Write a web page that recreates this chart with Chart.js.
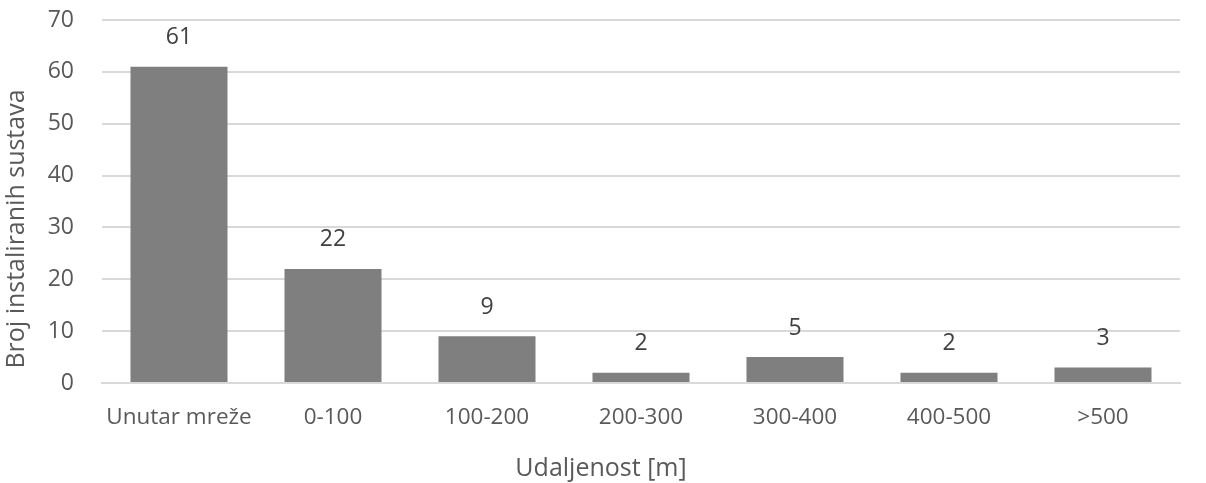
<!DOCTYPE html>
<html>
<head>
<meta charset="utf-8">
<script src="https://cdn.jsdelivr.net/npm/chart.js@4/dist/chart.umd.min.js"></script>
<style>
  html, body { margin: 0; padding: 0; background: #fff; }
  #wrap { width: 1206px; height: 483px; position: relative; }
</style>
</head>
<body>
<div id="wrap"><canvas id="chart"></canvas></div>
<script>
const categories = ['Unutar mreže', '0-100', '100-200', '200-300', '300-400', '400-500', '>500'];
const counts = [61, 22, 9, 2, 5, 2, 3];
const yTicks = [0, 10, 20, 30, 40, 50, 60, 70];
const xTitle = 'Udaljenost [m]';
const yTitle = 'Broj instaliranih sustava';

const FONT = "'Open Sans', 'Noto Sans', sans-serif";

// vrijednosti iznad stupaca + naslovi osi
const extras = {
  id: 'extras',
  afterDatasetsDraw(chart) {
    const ctx = chart.ctx;
    const meta = chart.getDatasetMeta(0);
    ctx.save();
    ctx.font = '23px ' + FONT;
    ctx.fillStyle = '#404040';
    ctx.textAlign = 'center';
    ctx.textBaseline = 'middle';
    meta.data.forEach((bar, i) => {
      ctx.fillText(String(counts[i]), bar.x, bar.y - 29);
    });

    ctx.font = '25px ' + FONT;
    ctx.fillStyle = '#595959';
    ctx.fillText(xTitle, 601, 469);
    ctx.translate(17, 229);
    ctx.rotate(-Math.PI / 2);
    ctx.fillText(yTitle, 0, 0);
    ctx.restore();
  }
};

new Chart(document.getElementById('chart'), {
  type: 'bar',
  data: {
    labels: categories,
    datasets: [{
      data: counts,
      backgroundColor: '#7f7f7f',
      borderWidth: 0,
      barPercentage: 0.63,
      categoryPercentage: 1.0
    }]
  },
  options: {
    responsive: true,
    maintainAspectRatio: false,
    animation: false,
    layout: { padding: { top: 0, right: 26, bottom: 0, left: 0 } },
    plugins: {
      legend: { display: false },
      tooltip: { enabled: false }
    },
    scales: {
      x: {
        grid: { display: false, drawTicks: false },
        border: { display: true, color: '#d9d9d9', width: 2 },
        ticks: { color: '#595959', font: { family: FONT, size: 22.5 }, padding: 21, maxRotation: 0 },
        afterFit(s) { s.height = 100; }
      },
      y: {
        min: 0,
        max: 70,
        afterBuildTicks(s) { s.ticks = yTicks.map(v => ({ value: v })); },
        grid: { color: '#d9d9d9', lineWidth: 2, drawTicks: false },
        border: { display: false },
        ticks: { color: '#595959', font: { family: FONT, size: 23 }, padding: 28 },
        afterFit(s) {
          s.width = 102;
          s.paddingTop = 20;
          s.paddingBottom = 0;
        }
      }
    }
  },
  plugins: [extras]
});
</script>
</body>
</html>
